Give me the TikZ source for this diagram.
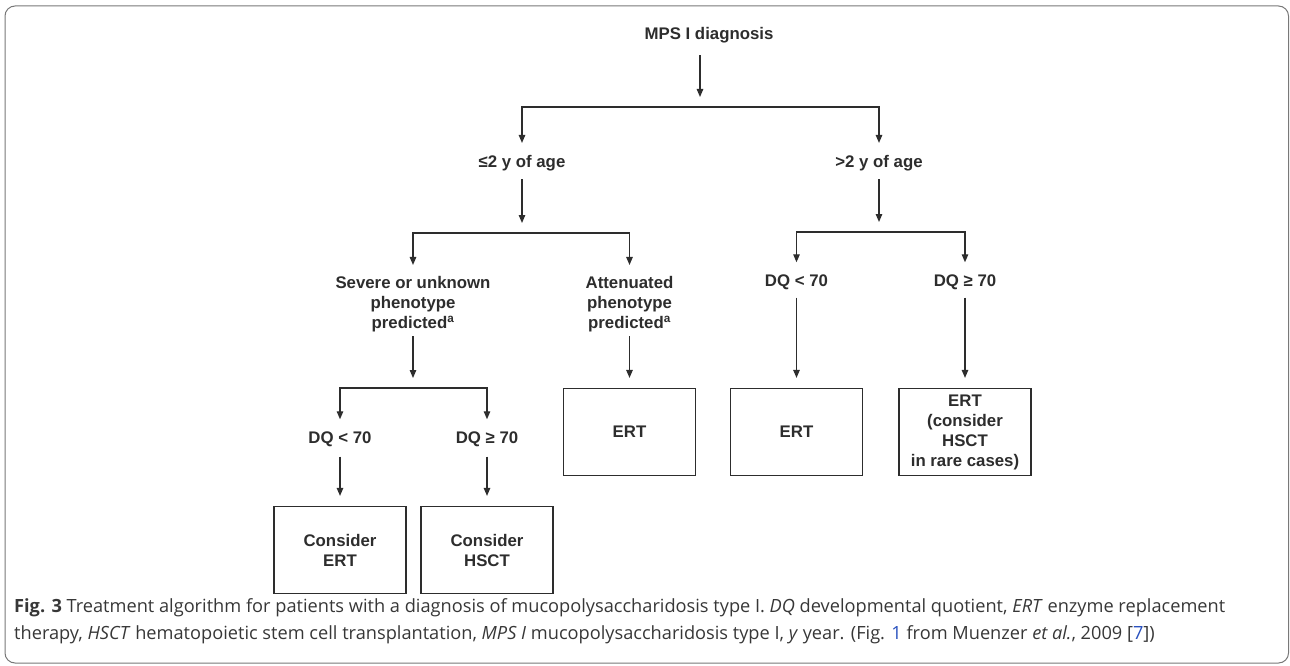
\documentclass[tikz,border=0pt]{standalone}
\usepackage{fontspec}
\usepackage{xcolor}
\setmainfont{Liberation Sans}
\newfontfamily\capfont{Open Sans}
\usetikzlibrary{arrows.meta, positioning}
\definecolor{lineclr}{RGB}{45,45,45}
\definecolor{capclr}{RGB}{55,55,55}
\definecolor{refblue}{RGB}{40,80,190}
\definecolor{frameclr}{RGB}{120,120,120}

\begin{document}
\begin{tikzpicture}[x=1pt,y=-1pt,
  lbl/.style={font=\bfseries\fontsize{16.8}{20}\selectfont, text=lineclr, align=center, inner sep=0pt},
  outbox/.style={draw=lineclr, line width=1.2pt, minimum width=132pt, minimum height=87pt,
    font=\bfseries\fontsize{16.8}{20}\selectfont, text=lineclr, align=center, inner sep=2pt},
  arr/.style={draw=lineclr, line width=1.2pt, -{Triangle[length=8pt,width=6.5pt]}, shorten >=10pt},
  captext/.style={font=\capfont\fontsize{18.2}{20}\selectfont, text=capclr, inner sep=0pt, anchor=base west}]
\useasboundingbox (0,0) rectangle (1290,666);
% frame
\draw[frameclr, line width=1pt, rounded corners=10pt] (5,6) rectangle (1288.5,663);

% top
\node[lbl] (diag) at (709,35) {MPS I diagnosis};
\coordinate (j0) at (700,107);
\node[lbl] (young) at (522,163) {≤2 y of age};
\node[lbl] (old) at (879,163) {>2 y of age};

% young branch
\coordinate (j1) at (522,233);
\node[lbl] (severe) at (413,304) {Severe or unknown\\phenotype\\predicted\textsuperscript{a}};
\node[lbl] (atten) at (629.5,304) {Attenuated\\phenotype\\predicted\textsuperscript{a}};
\coordinate (j3) at (413,388);
\node[lbl] (dqc) at (340,439) {DQ < 70};
\node[lbl] (dqd) at (487,439) {DQ ≥ 70};
\node[outbox] (cert) at (340,550) {Consider\\ERT};
\node[outbox] (chsct) at (487,550) {Consider\\HSCT};
\node[outbox] (ert1) at (629.5,432) {ERT};

% old branch
\coordinate (j2) at (879,232);
\node[lbl] (dqa) at (796.5,282) {DQ < 70};
\node[lbl] (dqb) at (965,282) {DQ ≥ 70};
\node[outbox] (ert2) at (796.5,432) {ERT};
\node[outbox] (ert3) at (965,432) {ERT\\(consider\\HSCT\\in rare cases)};

% connectors
\draw[arr, shorten <=12pt] (j0 |- diag.south) -- (j0);
\draw[arr, shorten >=12pt] (j0) -| (young);
\draw[arr, shorten >=12pt] (j0) -| (old);
\draw[arr, shorten <=8pt] (young) -- (j1);
\draw[arr, shorten >=11pt] (j1) -| (severe);
\draw[arr, shorten >=11pt] (j1) -| (atten);
\draw[arr, shorten <=4pt] (severe) -- (j3);
\draw[arr, shorten <=4pt] (atten) -- (ert1);
\draw[arr, shorten >=12pt] (j3) -| (dqc);
\draw[arr, shorten >=12pt] (j3) -| (dqd);
\draw[arr, shorten <=10pt] (dqc) -- (cert);
\draw[arr, shorten <=10pt] (dqd) -- (chsct);
\draw[arr, shorten <=8pt] (old) -- (j2);
\draw[arr, shorten >=12pt] (j2) -| (dqa);
\draw[arr, shorten >=12pt] (j2) -| (dqb);
\draw[arr, shorten <=8pt] (dqa) -- (ert2);
\draw[arr, shorten <=8pt] (dqb) -- (ert3);

% caption
\node[captext] (cap1) at (14,612) {\textbf{Fig. 3} Treatment algorithm for patients with a diagnosis of mucopolysaccharidosis type I. \textit{DQ} developmental quotient, \textit{ERT} enzyme replacement};
\node[captext] (cap2) at (14,639) {therapy, \textit{HSCT} hematopoietic stem cell transplantation, \textit{MPS I} mucopolysaccharidosis type I, \textit{y} year. (Fig. \textcolor{refblue}{1} from Muenzer \textit{et al.}, 2009 [\textcolor{refblue}{7}])};
\end{tikzpicture}
\end{document}
